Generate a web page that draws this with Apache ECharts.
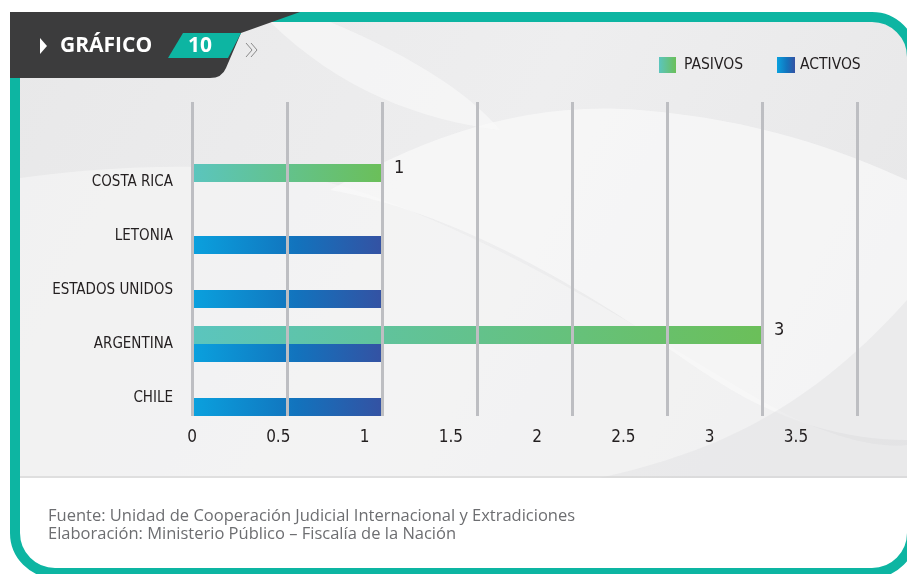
<!DOCTYPE html>
<html><head><meta charset="utf-8">
<script src="https://cdn.jsdelivr.net/npm/echarts@6/dist/echarts.min.js"></script>
<style>html,body{margin:0;padding:0;background:#fff}#c{width:907px;height:574px}</style>
</head><body><div id="c"></div>
<script>
// ---- data ----
const categories = ['COSTA RICA', 'LETONIA', 'ESTADOS UNIDOS', 'ARGENTINA', 'CHILE'];
const seriesNames = ['PASIVOS', 'ACTIVOS'];
const pasivos = [1, null, null, 3, null];
const activos = [null, 1, 1, 1, 1];
const tickLabels = ['0', '0.5', '1', '1.5', '2', '2.5', '3', '3.5'];
const headerTitle = 'GRÁFICO';
const headerNumber = '10';
const sourceLines = [
  'Fuente: Unidad de Cooperación Judicial Internacional y Extradiciones',
  'Elaboración: Ministerio Público – Fiscalía de la Nación'
];

// ---- styles ----
const COND = '"DejaVu Sans Condensed","Liberation Sans Narrow",sans-serif';
const TEAL = '#0db5a2';
const TXT = '#231f20';
const gradP = new echarts.graphic.LinearGradient(0, 0, 1, 0, [{offset: 0, color: '#5bc5be'}, {offset: 1, color: '#6bbf59'}]);
const gradA = new echarts.graphic.LinearGradient(0, 0, 1, 0, [{offset: 0, color: '#0aa1de'}, {offset: 0.55, color: '#1273bd'}, {offset: 1, color: '#3452a3'}]);

function shape(name, d) {
  echarts.graphic.registerShape(name, echarts.graphic.extendPath(d, {}));
}
shape('wave1', 'M20,178 C150,160 280,162 370,195 C520,250 640,330 760,400 C830,440 880,448 907,445 L907,478 L20,478 Z');
shape('wave2', 'M330,190 C470,215 600,300 700,370 C780,425 850,440 907,440 L907,180 C840,150 760,120 640,110 C520,100 420,140 330,190 Z');
shape('wave3', 'M270,22 L330,22 C420,60 470,95 500,130 C420,120 340,90 270,22 Z');
shape('wave4', 'M600,478 C700,455 800,420 907,300 L907,478 Z');
shape('header', 'M10,12 L300,12 L241,33 L226,68 Q222,78 210,78 L10,78 Z');

const AXMAX = 3.5;
const LABEL_MAX = 3.5 * 665 / 604;

const chart = echarts.init(document.getElementById('c'), null, {renderer: 'canvas'});

const option = {
  animation: false,
  backgroundColor: '#ffffff',
  grid: [
    {left: 192, top: 155, width: 665, height: 270, containLabel: false},
    {left: 192, top: 102, width: 665, height: 314, containLabel: false},
    {left: 192, top: 102, width: 665, height: 314, containLabel: false}
  ],
  xAxis: [
    {gridIndex: 0, type: 'value', min: 0, max: AXMAX, interval: 0.5, show: false},
    {gridIndex: 1, type: 'value', min: 0, max: AXMAX, interval: 0.5, z: 10,
      axisLine: {show: false}, axisTick: {show: false}, axisLabel: {show: false},
      splitLine: {show: true, lineStyle: {color: '#bdbec2', width: 3}}},
    {gridIndex: 2, type: 'value', min: 0, max: LABEL_MAX, interval: 0.5,
      axisLine: {show: false}, axisTick: {show: false}, splitLine: {show: false},
      axisLabel: {show: true, margin: 13, showMaxLabel: false, color: TXT, fontFamily: COND, fontSize: 17,
        formatter: v => { const i = Math.round(v / 0.5); return tickLabels[i] !== undefined ? tickLabels[i] : ''; }}}
  ],
  yAxis: [
    {gridIndex: 0, type: 'category', data: categories, inverse: true,
      axisLine: {show: false}, axisTick: {show: false}, splitLine: {show: false},
      axisLabel: {margin: 19, color: TXT, fontFamily: COND, fontSize: 15}},
    {gridIndex: 1, type: 'value', show: false},
    {gridIndex: 2, type: 'value', show: false}
  ],
  legend: [
    {data: [seriesNames[0]], left: 659, top: 57, padding: 0, itemWidth: 17, itemHeight: 16, icon: 'rect',
      textStyle: {fontFamily: COND, fontSize: 15.5, color: TXT, padding: [0, 0, 0, 3]}},
    {data: [seriesNames[1]], left: 777, top: 57, padding: 0, itemWidth: 18, itemHeight: 16, icon: 'rect',
      textStyle: {fontFamily: COND, fontSize: 15.5, color: TXT, padding: [0, 0, 0, 0]}}
  ],
  series: [
    {name: seriesNames[0], type: 'bar', xAxisIndex: 0, yAxisIndex: 0, data: pasivos,
      barWidth: 18, barGap: '0%', itemStyle: {color: gradP},
      label: {show: true, position: 'right', distance: 12, offset: [0, -5], color: TXT, fontFamily: COND, fontSize: 18}},
    {name: seriesNames[1], type: 'bar', xAxisIndex: 0, yAxisIndex: 0, data: activos,
      barWidth: 18, barGap: '0%', itemStyle: {color: gradA}}
  ],
  graphic: [
    {type: 'rect', z: -10, silent: true, shape: {x: 15, y: 17, width: 897, height: 461, r: [0, 40, 0, 0]},
      style: {fill: new echarts.graphic.LinearGradient(0, 0, 1, 1, [{offset: 0, color: '#e8e8e9'}, {offset: 0.5, color: '#eeeeef'}, {offset: 1, color: '#e6e6e7'}])}},
    {type: 'wave1', z: -9, silent: true, style: {fill: 'rgba(246,246,247,0.6)'}},
    {type: 'wave2', z: -8, silent: true, style: {fill: 'rgba(249,249,250,0.7)'}},
    {type: 'wave3', z: -8, silent: true, style: {fill: 'rgba(250,250,250,0.6)'}},
    {type: 'wave4', z: -8, silent: true, style: {fill: 'rgba(225,225,226,0.45)'}},
    {type: 'rect', z: -7, silent: true, shape: {x: 20, y: 476, width: 890, height: 2}, style: {fill: 'rgba(210,210,210,0.6)'}},
    {type: 'rect', z: 20, silent: true, shape: {x: 15, y: 17, width: 897, height: 556, r: 40},
      style: {fill: null, stroke: TEAL, lineWidth: 10}},
    {type: 'header', z: 21, silent: true, style: {fill: '#3c3c3d'}},
    {type: 'polygon', z: 22, silent: true, shape: {points: [[40, 38], [47, 46], [40, 54]]}, style: {fill: '#ffffff'}},
    {type: 'text', z: 22, silent: true, x: 60, y: 46,
      style: {text: headerTitle, fill: '#ffffff', font: 'bold 21px "Open Sans", sans-serif', verticalAlign: 'middle'}},
    {type: 'polygon', z: 22, silent: true, shape: {points: [[183, 33], [241, 33], [228, 58], [168, 58]]}, style: {fill: TEAL}},
    {type: 'text', z: 23, silent: true, x: 200, y: 46,
      style: {text: headerNumber, fill: '#ffffff', font: 'bold 21px "Open Sans", sans-serif', align: 'center', verticalAlign: 'middle'}},
    {type: 'polyline', z: 22, silent: true, shape: {points: [[246, 43], [252, 50], [246, 57]]}, style: {stroke: '#8a8a8a', lineWidth: 1, fill: null}},
    {type: 'polyline', z: 22, silent: true, shape: {points: [[251, 43], [257, 50], [251, 57]]}, style: {stroke: '#8a8a8a', lineWidth: 1, fill: null}},
    {type: 'text', z: 5, silent: true, x: 48, y: 516,
      style: {text: sourceLines[0], fill: '#6d6e71', font: '16.5px "Open Sans", sans-serif', verticalAlign: 'middle'}},
    {type: 'text', z: 5, silent: true, x: 48, y: 534,
      style: {text: sourceLines[1], fill: '#6d6e71', font: '16.5px "Open Sans", sans-serif', verticalAlign: 'middle'}}
  ]
};
chart.setOption(option);
</script></body></html>
